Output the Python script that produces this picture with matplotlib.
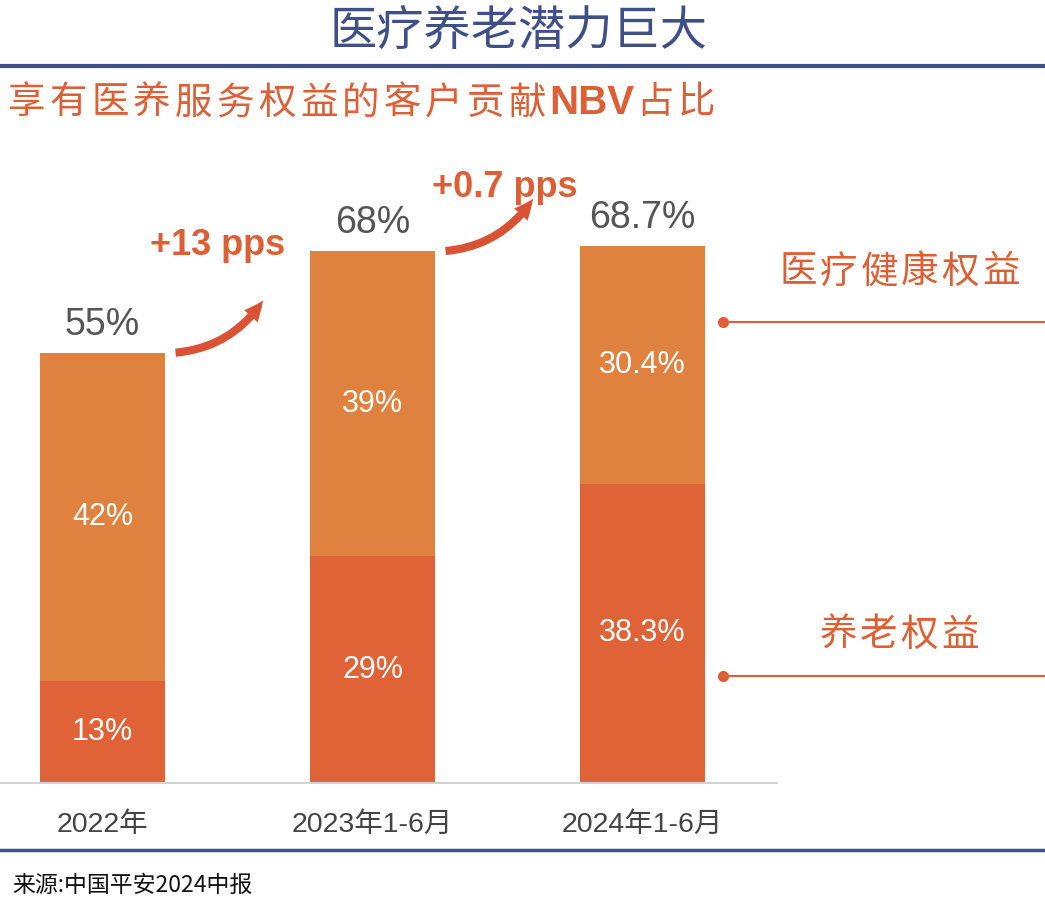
import matplotlib.pyplot as plt
from matplotlib.lines import Line2D
from matplotlib.patches import FancyArrowPatch

plt.rcParams['font.family'] = ['Liberation Sans', 'Noto Sans CJK SC', 'DejaVu Sans']

# data
periods = ['2022年', '2023年1-6月', '2024年1-6月']
yanglao = [13, 29, 38.3]        # 养老权益
yiliao = [42, 39, 30.4]         # 医疗健康权益
totals = [55, 68, 68.7]
changes = ['+13 pps', '+0.7 pps']

c_top = '#E0823F'
c_bot = '#DF6337'
c_red = '#DD5F35'
c_blue = '#3F4F88'

W, H = 1045, 901
fig = plt.figure(figsize=(W / 100, H / 100), dpi=100)

def fx(px):
    return px / W

def fy(py):
    return 1 - py / H

def spaced(text, x0, y, step, **kw):
    # CJK headings in the source are letter-spaced, place glyph by glyph
    for k, ch in enumerate(text):
        fig.text(fx(x0 + step * (k + 0.5)), fy(y), ch, ha='center', va='center', **kw)

# title + rules
fig.text(fx(519), fy(31), '医疗养老潜力巨大', ha='center', va='center',
         fontsize=34, color=c_blue, family=['Noto Sans CJK SC'])
fig.add_artist(Line2D([0, 1], [fy(66), fy(66)], color=c_blue, lw=3))
fig.add_artist(Line2D([0, 1], [fy(850), fy(850)], color=c_blue, lw=2.5))

sub_kw = dict(fontsize=27, color=c_red, family=['Noto Sans CJK SC'])
spaced('享有医养服务权益的客户贡献', 6, 103, 41.7, **sub_kw)
fig.text(fx(549), fy(103), 'NBV', ha='left', va='center', fontsize=29,
         fontweight='bold', color=c_red, family=['Liberation Sans'])
spaced('占比', 634, 103, 41.7, **sub_kw)

fig.text(fx(12), fy(885), '来源:中国平安2024中报', ha='left', va='center',
         fontsize=16.5, color='#111111', family=['Noto Sans CJK SC'])

# chart
ax = fig.add_axes([0, fy(783), fx(777), fy(150) - fy(783)])
x = list(range(len(periods)))
bw = 0.463
ax.bar(x, yanglao, width=bw, color=c_bot)
ax.bar(x, yiliao, width=bw, bottom=yanglao, color=c_top)

for i in x:
    ax.text(i, yanglao[i] / 2, f'{yanglao[i]:g}%', ha='center', va='center',
            color='white', fontsize=22)
    ax.text(i, yanglao[i] + yiliao[i] / 2, f'{yiliao[i]:g}%', ha='center',
            va='center', color='white', fontsize=22)
    ax.annotate(f'{totals[i]:g}%', (i, totals[i]), xytext=(0, 20),
                textcoords='offset points', ha='center', va='center',
                color='#555555', fontsize=27)

# growth arrows
for i, lab in enumerate(changes):
    start = (i + 0.26, totals[i])
    end = (i + 0.6, totals[i] + 7)
    arr = FancyArrowPatch(start, end, connectionstyle='arc3,rad=0.25',
                          arrowstyle='simple,head_width=10,head_length=11,tail_width=4.5',
                          color='#D95233', lw=0, mutation_scale=1.3)
    ax.add_patch(arr)
ax.text(0.425, 68.8, changes[0], ha='center', va='center', fontsize=26,
        fontweight='bold', color=c_red)
ax.text(1.49, 76.2, changes[1], ha='center', va='center', fontsize=26,
        fontweight='bold', color=c_red)

ax.set_xlim(-0.38, 2.498)
ax.set_ylim(0, 80.95)
ax.set_xticks(x)
ax.set_xticklabels(periods, fontsize=20.5, color='#444444')
ax.tick_params(axis='x', length=0, pad=21)
ax.set_yticks([])
for s in ['top', 'left', 'right']:
    ax.spines[s].set_visible(False)
ax.spines['bottom'].set_color('#D3D3D3')
ax.spines['bottom'].set_linewidth(1.5)

# series callouts on the right
lab_kw = dict(fontsize=27, color=c_red, family=['Noto Sans CJK SC'])
spaced('医疗健康权益', 778, 272, 40.5, **lab_kw)
spaced('养老权益', 818, 635, 40.5, **lab_kw)
for ly in [322, 676]:
    fig.add_artist(Line2D([fx(722), 1], [fy(ly), fy(ly)], color=c_red, lw=1.5))
    fig.add_artist(Line2D([fx(723)], [fy(ly)], marker='o', markersize=7,
                          color=c_red, lw=0))

fig.savefig('out.png', dpi=100)
